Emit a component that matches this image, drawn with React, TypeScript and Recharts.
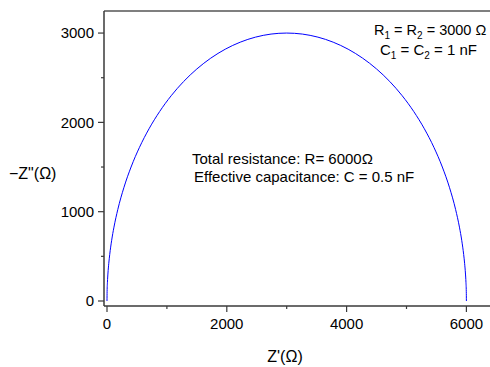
import React from "react";
import { LineChart, Line, XAxis, YAxis, ReferenceLine, Customized } from "recharts";

const zReal = [
  0, 1.8, 7.3, 16.4, 29.2, 45.6, 76.9, 116.2, 180.9, 281.1, 401.9, 542.5, 701.9, 878.7,
  1071.6, 1279.3, 1500, 1732.1, 1973.9, 2223.5, 2479.1, 2738.5, 3000,
  3261.5, 3520.9, 3776.5, 4026.1, 4267.9, 4500, 4720.7, 4928.4, 5121.3, 5298.1, 5457.5,
  5598.1, 5719.1, 5819.1, 5883.8, 5923.1, 5954.4, 5970.8, 5983.6, 5992.7, 5998.2, 6000,
];
const zImag = [
  0, 104.7, 209.3, 313.6, 417.5, 520.9, 674.9, 826.9, 1026.1, 1267.9, 1500, 1720.7, 1928.4, 2121.3,
  2298.1, 2457.5, 2598.1, 2718.9, 2819.1, 2897.8, 2954.4, 2988.6, 3000,
  2988.6, 2954.4, 2897.8, 2819.1, 2718.9, 2598.1, 2457.5, 2298.1, 2121.3, 1928.4, 1720.7,
  1500, 1267.9, 1026.1, 826.9, 674.9, 520.9, 417.5, 313.6, 209.3, 104.7, 0,
];

const xTicks = [0, 1000, 2000, 3000, 4000, 5000, 6000];
const yTicks = [0, 500, 1000, 1500, 2000, 2500, 3000];
const X_DOMAIN = [-50, 6394];
const Y_DOMAIN = [-56, 3247];

const data = zReal.map((x, i) => ({ x, y: zImag[i] }));

const FONT = "'Liberation Sans', Arial, sans-serif";
const AXIS = "#3a3a3a";

const YTick = (props: any) => {
  const { x, y, payload } = props;
  const major = payload.value % 1000 === 0;
  return (
    <g>
      <line x1={x - (major ? 6 : 3)} x2={x} y1={y} y2={y} stroke={AXIS} strokeWidth={1.2} />
      {major && (
        <text x={x - 10} y={y} dy="0.36em" textAnchor="end" fontSize={15} fontFamily={FONT} fill="#000">
          {payload.value}
        </text>
      )}
    </g>
  );
};

const XTick = (props: any) => {
  const { x, y, payload } = props;
  const major = payload.value % 2000 === 0;
  return (
    <g>
      <line x1={x} x2={x} y1={y} y2={y + (major ? 6 : 3)} stroke={AXIS} strokeWidth={1.2} />
      {major && (
        <text x={x} y={y + 23} textAnchor="middle" fontSize={15} fontFamily={FONT} fill="#000">
          {payload.value}
        </text>
      )}
    </g>
  );
};

const Notes = () => (
  <g fontFamily={FONT} fill="#000">
    <text x={374} y={35} fontSize={14.5}>
      R<tspan dy={4} fontSize={10}>1</tspan>
      <tspan dy={-4}> = R</tspan>
      <tspan dy={4} fontSize={10}>2</tspan>
      <tspan dy={-4}> = 3000 Ω</tspan>
    </text>
    <text x={380} y={55} fontSize={15}>
      C<tspan dy={4} fontSize={10}>1</tspan>
      <tspan dy={-4}> = C</tspan>
      <tspan dy={4} fontSize={10}>2</tspan>
      <tspan dy={-4}> = 1 nF</tspan>
    </text>
    <text x={192} y={164} fontSize={15}>Total resistance: R= 6000Ω</text>
    <text x={194} y={182} fontSize={15}> Effective capacitance: C = 0.5 nF</text>
    <text x={285} y={362} fontSize={16} textAnchor="middle">Z'(Ω)</text>
    <text x={9} y={179} fontSize={16}>−Z"(Ω)</text>
  </g>
);

export default function App() {
  return (
    <div style={{ position: "absolute", left: 0, top: 0, background: "#fff" }}>
      <LineChart width={490} height={367} data={data} margin={{ top: 11, right: 0, left: 0, bottom: 0 }}>
        <XAxis
          dataKey="x"
          type="number"
          domain={X_DOMAIN}
          ticks={xTicks}
          allowDataOverflow
          height={61}
          tickSize={0}
          tickMargin={0}
          tickLine={false}
          tick={<XTick />}
          axisLine={{ stroke: AXIS, strokeWidth: 1.5 }}
        />
        <YAxis
          dataKey="y"
          type="number"
          domain={Y_DOMAIN}
          ticks={yTicks}
          allowDataOverflow
          width={104}
          tickSize={0}
          tickMargin={0}
          tickLine={false}
          tick={<YTick />}
          axisLine={{ stroke: AXIS, strokeWidth: 1.5 }}
        />
        <ReferenceLine y={Y_DOMAIN[1]} stroke="#000" strokeWidth={1.2} ifOverflow="visible" />
        <Line
          type="monotone"
          dataKey="y"
          stroke="#0000ff"
          strokeWidth={1}
          dot={false}
          isAnimationActive={false}
        />
        <Customized component={Notes} />
      </LineChart>
    </div>
  );
}
